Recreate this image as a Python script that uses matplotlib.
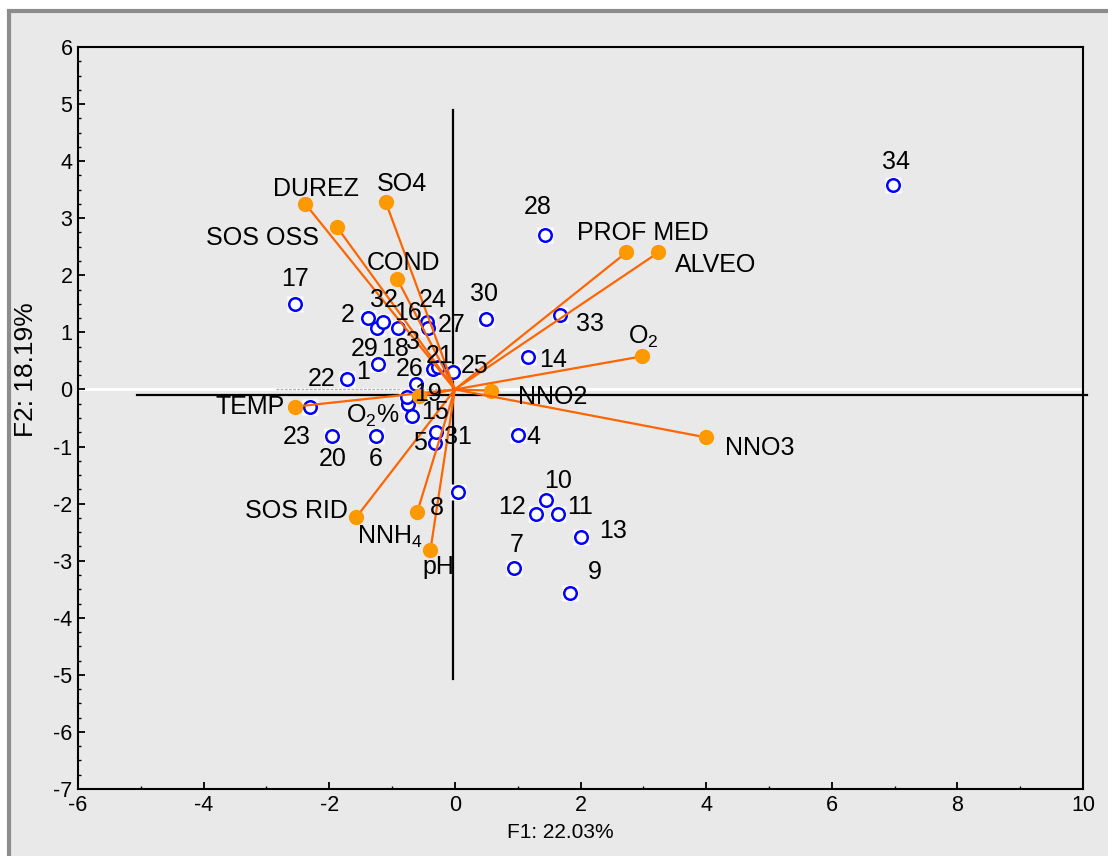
import matplotlib
matplotlib.use("Agg")
import matplotlib.pyplot as plt
from matplotlib.patches import Rectangle
from matplotlib.ticker import MultipleLocator

plt.rcParams['font.family'] = ['Liberation Sans', 'DejaVu Sans']
plt.rcParams['mathtext.fontset'] = 'custom'
plt.rcParams['mathtext.rm'] = 'Liberation Sans'
plt.rcParams['mathtext.default'] = 'regular'
plt.rcParams['axes.unicode_minus'] = False

# observaciones (F1, F2)
obs_id = [str(i) for i in range(1, 35)]
obs_f1 = [-1.22, -1.38, -0.75, 1.01, -0.32, -1.26, 0.94, 0.05, 1.83, 1.45,
          1.64, 1.29, 2.01, 1.17, -0.68, -0.90, -2.54, -0.35, -0.76, -1.96,
          -0.27, -1.72, -2.31, -0.44, -0.03, -0.62, -0.43, 1.43, -1.24, 0.50,
          -0.30, -1.14, 1.68, 6.98]
obs_f2 = [0.44, 1.26, -0.25, -0.79, -0.93, -0.82, -3.12, -1.79, -3.56, -1.94,
          -2.19, -2.19, -2.59, 0.56, -0.47, 1.07, 1.49, 0.35, -0.14, -0.82,
          0.39, 0.18, -0.30, 1.19, 0.30, 0.09, 1.07, 2.71, 1.07, 1.24,
          -0.74, 1.19, 1.30, 3.59]
# desplazamiento de las etiquetas (pixeles)
obs_off = [(-15, -8), (-21, 3), (5, 62), (15, -2), (-15, 0), (0, -23), (3, 23),
           (-21, -16), (25, 21), (12, 19), (22, 7), (-24, 7), (32, 6), (25, -3),
           (23, 4), (10, 15), (0, 25), (-38, 20), (21, 3), (1, -23), (2, 11),
           (-25, 0), (-13, -30), (5, 22), (22, 6), (-6, 15), (24, 3), (-7, 28),
           (-12, -21), (-2, 25), (22, -5), (1, 22), (30, -9), (3, 23)]

# variables (vectores)
var_name = ['DUREZ', 'SO4', 'SOS OSS', 'COND', 'PROF MED', 'ALVEO', 'O$_2$',
            'NNO2', 'NNO3', 'TEMP', 'O$_2$%', 'SOS RID', 'NNH$_4$', 'pH']
var_f1 = [-2.38, -1.10, -1.88, -0.92, 2.73, 3.24, 2.98,
          0.58, 4.00, -2.54, -0.57, -1.57, -0.60, -0.39]
var_f2 = [3.25, 3.28, 2.85, 1.94, 2.40, 2.40, 0.58,
          -0.02, -0.84, -0.30, -0.12, -2.24, -2.15, -2.82]
var_off = [(11, 15), (16, 18), (-74, -11), (6, 16), (17, 19), (57, -13), (1, 19),
           (61, -6), (54, -11), (-45, 0), (-46, -20), (-60, 6), (-27, -25), (8, -17)]

fig = plt.figure(figsize=(11.08, 8.56), dpi=100)
fig.patch.set_facecolor('white')
marco = Rectangle((9 / 1108, -0.05), 1.2, 1 - 11.5 / 856 + 0.05,
                  transform=fig.transFigure, facecolor='#e9e9e9',
                  edgecolor='#8c8c8c', lw=3, zorder=-5)
fig.patches.append(marco)

ax = fig.add_axes([78 / 1108, 1 - 789 / 856, (1083 - 78) / 1108, (789 - 47) / 856])
ax.set_facecolor('#e9e9e9')
ax.set_xlim(-6, 10)
ax.set_ylim(-7, 6)

# ejes
ax.axhline(0, color='white', lw=2, zorder=1)
ax.plot([-2.85, -0.1], [0, 0], color='#b0b0b0', lw=1, ls=(0, (2, 1)), zorder=1)
ax.plot([-5.06, 10.06], [-0.1, -0.1], color='black', lw=1.6, zorder=2, clip_on=False)
ax.plot([-0.03, -0.03], [4.9, -5.08], color='black', lw=1.6, zorder=2)

# observaciones
ax.plot(obs_f1, obs_f2, 's', ms=11.5, mfc='white', mec='none', zorder=3)
ax.plot(obs_f1, obs_f2, 'o', ms=9, mfc='white', mec='#0000ff', mew=1.8, zorder=4)
for lab, x, y, off in zip(obs_id, obs_f1, obs_f2, obs_off):
    ax.annotate(lab, (x, y), xytext=off, textcoords='offset pixels',
                ha='center', va='center', fontsize=18, zorder=6)

# vectores
for name, x, y, off in zip(var_name, var_f1, var_f2, var_off):
    ax.plot([0, x], [0, y], color='#ff6600', lw=1.6, zorder=5)
    ax.plot(x, y, 'o', ms=10, color='#ff9900', zorder=5)
    ax.annotate(name, (x, y), xytext=off, textcoords='offset pixels',
                ha='center', va='center', fontsize=18, zorder=6)

ax.xaxis.set_major_locator(MultipleLocator(2))
ax.xaxis.set_minor_locator(MultipleLocator(1))
ax.yaxis.set_major_locator(MultipleLocator(1))
ax.yaxis.set_minor_locator(MultipleLocator(0.25))
ax.tick_params(which='major', direction='in', length=5, width=1.3, labelsize=15.5, pad=4)
ax.tick_params(which='minor', direction='in', length=2.5, width=1)
for s in ax.spines.values():
    s.set_linewidth(1.5)

ax.set_xlabel('F1: 22.03%', fontsize=15)
ax.xaxis.set_label_coords(0.48, -0.046)
ax.set_ylabel('F2: 18.19%', fontsize=19)
ax.yaxis.set_label_coords(-0.04, 0.565)

fig.savefig('out.png', dpi=100)
